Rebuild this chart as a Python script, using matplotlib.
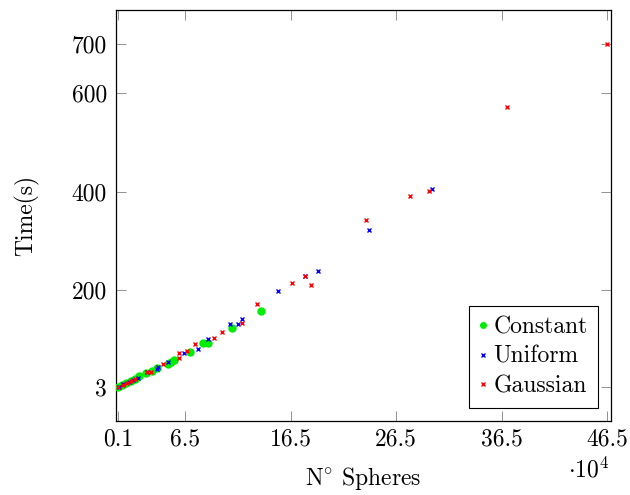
import matplotlib
matplotlib.use("Agg")
import matplotlib.pyplot as plt

plt.rcParams['font.family'] = ['cmr10', 'DejaVu Serif']
plt.rcParams['mathtext.fontset'] = 'cm'
plt.rcParams['axes.formatter.use_mathtext'] = True

FS = 17

# Number of spheres (x 10^4) and run time in seconds
const_n = [0.1, 0.5, 0.9, 1.3, 1.7, 2.1, 2.8, 3.34, 3.8, 4.8, 5.17, 5.46,
           6.94, 8.2, 8.68, 10.95, 13.67]
const_t = [3, 7, 11, 15, 19, 24, 30, 35.5, 42, 49.7, 53.8, 57.8,
           74.7, 93, 93, 123.5, 157.4]

unif_n = [0.24, 0.62, 1.1, 1.57, 2.04, 2.86, 3.8, 3.9, 4.82, 6.4, 7.66, 8.6,
          10.76, 11.46, 11.9, 15.24, 17.83, 19.1, 23.9, 29.9]
unif_t = [3, 9, 13, 17, 21, 32, 39.5, 43.6, 53.8, 72.6, 80.7, 101,
          130, 131.4, 141.5, 198, 228, 238.6, 322, 405]

gauss_n = [0.13, 0.55, 0.93, 1.3, 1.71, 2.86, 3.27, 4.34, 5.86, 5.93, 6.65,
           7.45, 9.18, 9.97, 11.9, 13.3, 16.6, 17.83, 18.4, 23.67, 27.8,
           29.6, 37.0, 46.5]
gauss_t = [3, 7, 11, 14.6, 17.8, 34, 34, 50.3, 62.5, 72.6, 76,
           89.6, 103, 115, 133.5, 171.6, 213.6, 228, 210, 341.5, 390.7,
           401.6, 572, 700]

x_ticks = [0.1, 6.5, 16.5, 26.5, 36.5, 46.5]
y_ticks = [3, 200, 400, 600, 700]

fig = plt.figure(figsize=(6.3, 4.95), dpi=100)
ax = fig.add_axes([116 / 630, 1 - 421 / 495, 495 / 630, 411 / 495])

ax.plot(const_n, const_t, linestyle='none', marker='o', markersize=5,
        color='#00ee00', label='Constant', zorder=3)
ax.plot(unif_n, unif_t, linestyle='none', marker='x', markersize=3.2,
        markeredgewidth=1.0, color='#0000ff', label='Uniform', zorder=4)
ax.plot(gauss_n, gauss_t, linestyle='none', marker='x', markersize=3.2,
        markeredgewidth=1.0, color='#ff0000', label='Gaussian', zorder=5)

ax.set_xlim(-0.09, 46.88)
ax.set_ylim(-66.7, 769.7)
ax.set_xticks(x_ticks)
ax.set_xticklabels([f"{v:g}" for v in x_ticks])
ax.set_yticks(y_ticks)
ax.set_yticklabels([str(v) for v in y_ticks])

ax.tick_params(direction='in', length=7.5, width=0.6, color='#808080',
               top=True, right=True, labelsize=FS)
ax.tick_params(axis='x', pad=5)
ax.tick_params(axis='y', pad=6.5)
for s in ax.spines.values():
    s.set_linewidth(0.9)
    s.set_color('black')

ax.set_xlabel(r'N$^{\circ}$ Spheres', fontsize=FS)
ax.xaxis.label.set_va('center')
ax.xaxis.set_label_coords(0.499, -0.139)
ax.set_ylabel('Time(s)', fontsize=FS)
ax.yaxis.label.set_va('center')
ax.yaxis.set_label_coords(-0.18, 0.5)
ax.text(0.996, -0.119, r'$\cdot 10^{4}$', transform=ax.transAxes,
        ha='right', va='center', fontsize=FS)

leg = ax.legend(loc='lower right', fontsize=FS, frameon=True, fancybox=False,
                edgecolor='black', framealpha=1, borderaxespad=0.54,
                handlelength=0.35, handletextpad=0.25, borderpad=0.45,
                labelspacing=0.32, markerscale=0.8)
leg.get_frame().set_linewidth(0.8)

fig.savefig('out.png', dpi=100)
